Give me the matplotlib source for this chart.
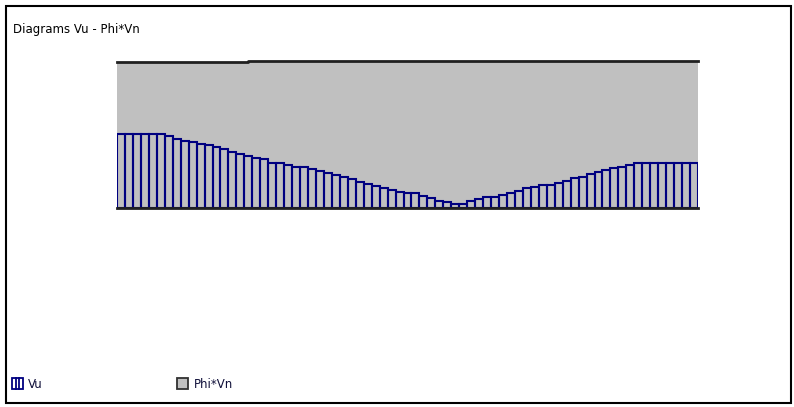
import numpy as np
import matplotlib
matplotlib.use('Agg')
import matplotlib.pyplot as plt
from matplotlib.patches import Rectangle
from matplotlib.lines import Line2D

# Estaciones a lo largo de la viga (una por barra)
n_barras = 73
estaciones = np.arange(n_barras)

# Cortante ultimo Vu por estacion
vu = [74, 74, 74, 74, 74, 74, 72.5, 69.5, 67.5, 65.7,
      64, 63, 60.7, 58.7, 56.3, 54, 52.3, 50.3, 48.7, 45.5,
      44.7, 43, 41.3, 40.7, 39, 37.3, 34.7, 33, 30.7, 29,
      26.3, 24, 22.3, 20.3, 18, 16.3, 14.7, 14.7, 12.3, 10.3,
      7.3, 6, 4, 4, 7, 9, 11.3, 11.3, 13, 14.7,
      17, 19.7, 21.3, 23, 23, 24.7, 27, 29.7, 31.3, 33.7,
      36.3, 38, 39.7, 41.3, 43, 44.7, 44.7, 44.7, 44.7, 44.7,
      44.7, 44.7, 44.7]

# Resistencia Phi*Vn por tramos
phi_vn_x = [0, 16.5, 73]
phi_vn = [146, 147, 147]

W, H = 794, 407
fig = plt.figure(figsize=(W / 100, H / 100), dpi=100)
fig.patch.set_facecolor('white')

# Ejes colocados en pixeles: x 117-698, base en y=208
ax = fig.add_axes([117 / W, 1 - 208 / H, 581 / W, 168 / H])
ax.set_xlim(0, n_barras)
ax.set_ylim(0, 168)
ax.axis('off')

# Diagrama Phi*Vn (relleno gris)
ax.fill_between(phi_vn_x, 0, phi_vn, step='post', color='#c0c0c0', lw=0, zorder=1)
ax.step(phi_vn_x, phi_vn, where='post', color='#202020', lw=2, zorder=3, clip_on=False)

# Diagrama Vu (barras con solo contorno)
ax.bar(estaciones, vu, width=1, align='edge', facecolor='none',
       edgecolor='#000080', linewidth=1.5, zorder=2)

# Linea base
ax.axhline(0, color='#202020', lw=2, zorder=4, clip_on=False)

# Titulo
fig.text(13 / W, 1 - 30 / H, 'Diagrams Vu - Phi*Vn', fontsize=8.5,
         family='DejaVu Sans', va='center', ha='left', color='black')

# Leyenda manual
def px(x, y):
    return x / W, 1 - y / H

fig.add_artist(Rectangle(px(12, 389), 11 / W, 11 / H, transform=fig.transFigure,
                         facecolor='white', edgecolor='#000080', lw=1.3))
for xl in (15.7, 19.3):
    fig.add_artist(Line2D([xl / W, xl / W], [1 - 389 / H, 1 - 378 / H],
                          transform=fig.transFigure, color='#000080', lw=1.3))
fig.text(28 / W, 1 - 384 / H, 'Vu', fontsize=8.5, family='DejaVu Sans',
         va='center', ha='left', color='#10103a')

fig.add_artist(Rectangle(px(177, 389), 11 / W, 11 / H, transform=fig.transFigure,
                         facecolor='#c0c0c0', edgecolor='#303030', lw=1.3))
fig.text(194 / W, 1 - 384 / H, 'Phi*Vn', fontsize=8.5, family='DejaVu Sans',
         va='center', ha='left', color='#10103a')

# Marco exterior
fig.add_artist(Rectangle(px(6, 403), 785 / W, 397 / H, transform=fig.transFigure,
                         fill=False, edgecolor='black', lw=1.5))

fig.savefig('out.png', dpi=100)
